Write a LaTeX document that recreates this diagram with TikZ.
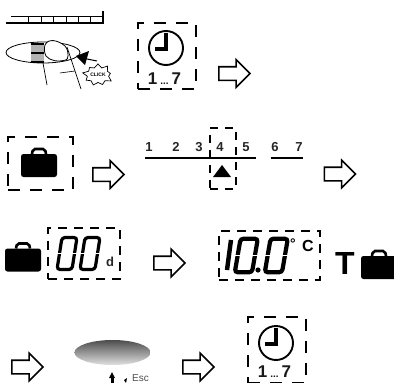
\documentclass[tikz,border=0pt]{standalone}
\usepackage{fontspec}
\setmainfont{Liberation Sans}
\usetikzlibrary{shapes.arrows, shapes.symbols}

\tikzset{
  flowarrow/.style={single arrow, draw=black, line width=1.6pt, fill=white, minimum height=31pt, single arrow head extend=7pt, inner xsep=0pt, inner ysep=6pt, anchor=center},
  dashbox/.style={draw=black, line width=2.3pt, dash pattern=on 12pt off 10pt, inner sep=0pt, anchor=north west},
  daylabel/.style={font=\bfseries\fontsize{13}{13}\selectfont, inner sep=0pt, text=black!85},
  rangelabel/.style={font=\bfseries\fontsize{17}{17}\selectfont, inner sep=0pt, text=black!90},
  pics/briefcase/.style={code={
    \fill[rounded corners=2.5pt] (-18,-11) rectangle (18,12);
    \draw[line width=2.6pt, rounded corners=2pt] (-7,-11) -- (-6,-16) -- (6,-16) -- (7,-11);
  }},
  pics/clockface/.style={code={
    \draw[line width=1.9pt] (0,0) circle (17);
    \draw[line width=3.4pt] (0,-15) -- (0,1) -- (-11,1);
  }},
  pics/zerodigit/.style={code={
    \draw[line width=#1, rounded corners=3pt] (-8,16) -- (-3,-16) -- (12,-16) -- (7,16) -- cycle;
    \draw[white, line width=0.7pt] (-9,0) -- (-3,0) (7,0) -- (13,0);
  }},
}

\begin{document}
\begin{tikzpicture}[x=1pt, y=-1pt]
\useasboundingbox (0,0) rectangle (394,383);
\clip (0,0) rectangle (394,383);

% top left: scale and hand
\draw[line width=1.1pt] (6,23) -- (103,23) -- (103,11);
\draw[line width=0.8pt] (11,16) -- (103,16);
\foreach \tickx in {28,41,53,66,78,90}
  \draw[line width=0.8pt] (\tickx,16) -- (\tickx,23);

\draw[line width=0.8pt] (43,52.5) ellipse (37 and 10.5);
\fill[gray!60] (31,44) rectangle (44,63);
\draw[line width=1.2pt] (31,44) -- (44,44) (31,53) -- (44,53) (31,62) -- (44,62);
\draw[fill=white, line width=0.8pt] (45,45) .. controls (48,38) and (58,40) .. (65,46) .. controls (70,52) and (68,60) .. (66,60) .. controls (58,62) and (50,61) .. (46,56) .. controls (44,52) and (44,48) .. (45,45);
\draw[line width=0.7pt] (43,63) -- (47,85);
\draw[line width=0.7pt] (67,47) -- (81,89);
\draw[line width=0.6pt] (60,73) -- (75,71);
\node[starburst, draw, line width=0.7pt, fill=white, starburst points=9, starburst point height=5pt, minimum width=27pt, minimum height=25pt, inner sep=0pt, font=\bfseries\fontsize{5}{5}\selectfont] (click) at (98,75) {CLICK};
\coordinate (pointer) at (76,56);
\draw[line width=1pt] (97,61) -- (82,58);
\fill (pointer) -- (89,51) -- (85,65) -- cycle;

% first clock
\node[dashbox, minimum width=58pt, minimum height=66pt] (clockboxa) at (137,22) {};
\pic at (166,48) {clockface};
\node[rangelabel] (daysa) at (164.5,79) {1\hspace{3pt}{\fontsize{10}{10}\selectfont...}\hspace{3pt}7};
\node[flowarrow] (arrowa) at (231,73.5) {};

% second row
\node[dashbox, minimum width=65pt, minimum height=53pt] (caseboxa) at (7,136) {};
\pic at (39,165) {briefcase};
\node[flowarrow] (arrowb) at (105,174.5) {};
\node[daylabel] (dayone) at (149,147) {1};
\node[daylabel] (daytwo) at (176,147) {2};
\node[daylabel] (daythree) at (199,147) {3};
\node[daylabel] (dayfour) at (220,147) {4};
\node[daylabel] (dayfive) at (246,147) {5};
\node[daylabel] (daysix) at (275,147) {6};
\node[daylabel] (dayseven) at (299,147) {7};
\draw[line width=2.4pt] (145,158) -- (256,158);
\draw[line width=2.4pt] (271,158) -- (303,158);
\node[dashbox, line width=1.6pt, dash pattern=on 8pt off 7pt, minimum width=26pt, minimum height=61pt] (dayboxa) at (209,127) {};
\fill (222,165) -- (231,177) -- (213,177) -- cycle;
\node[flowarrow] (arrowc) at (336.5,174) {};

% third row
\pic at (23,259.5) {briefcase};
\node[dashbox, line width=1.9pt, dash pattern=on 9pt off 7pt, minimum width=72pt, minimum height=51pt] (zeroboxa) at (47,227) {};
\pic at (65,253.5) {zerodigit=3.2pt};
\pic at (88,253.5) {zerodigit=3.2pt};
\node[inner sep=0pt, font=\bfseries\fontsize{13}{13}\selectfont, text=black!85] (unitd) at (110,262) {d};
\node[flowarrow] (arrowd) at (166,263) {};
\node[dashbox, line width=1.9pt, dash pattern=on 9pt off 7pt, minimum width=101pt, minimum height=49pt] (tempbox) at (218,230) {};
\draw[line width=4.4pt] (231,240) -- (227,270);
\pic[xscale=1.15, yscale=1.05] at (244,255.5) {zerodigit=4.2pt};
\fill (258,270) circle (2.6);
\pic[xscale=1.15, yscale=1.05] at (274,255.5) {zerodigit=4.2pt};
\node[inner sep=0pt, font=\bfseries\fontsize{14}{14}\selectfont] (degsign) at (293,244) {°};
\node[inner sep=0pt, font=\bfseries\fontsize{16}{16}\selectfont] (unitc) at (308,246) {C};
\node[inner sep=0pt, font=\bfseries\fontsize{32}{32}\selectfont] (tletter) at (345,263) {T};
\pic at (379,267) {briefcase};

% fourth row
\node[flowarrow] (arrowe) at (24,367) {};
\begin{scope}
\clip (70,335) rectangle (150,383);
\shade[top color=black!70, middle color=black!45, bottom color=black!12] (112.5,352.5) ellipse (38 and 12.5);
\fill (112,372) -- (115,378) -- (109,378) -- cycle;
\fill (110.5,378) rectangle (113.5,383);
\fill (124,380) -- (127,378) -- (126,383) -- cycle;
\node[inner sep=0pt, anchor=base west, font=\fontsize{10}{10}\selectfont, text=black!70] (esclabel) at (132,381) {Esc};
\end{scope}
\node[flowarrow] (arrowf) at (195,367) {};
\node[dashbox, minimum width=58pt, minimum height=66pt] (clockboxb) at (247,316) {};
\pic at (276,343) {clockface};
\node[rangelabel] (daysb) at (274.5,372) {1\hspace{3pt}{\fontsize{10}{10}\selectfont...}\hspace{3pt}7};

\end{tikzpicture}
\end{document}
